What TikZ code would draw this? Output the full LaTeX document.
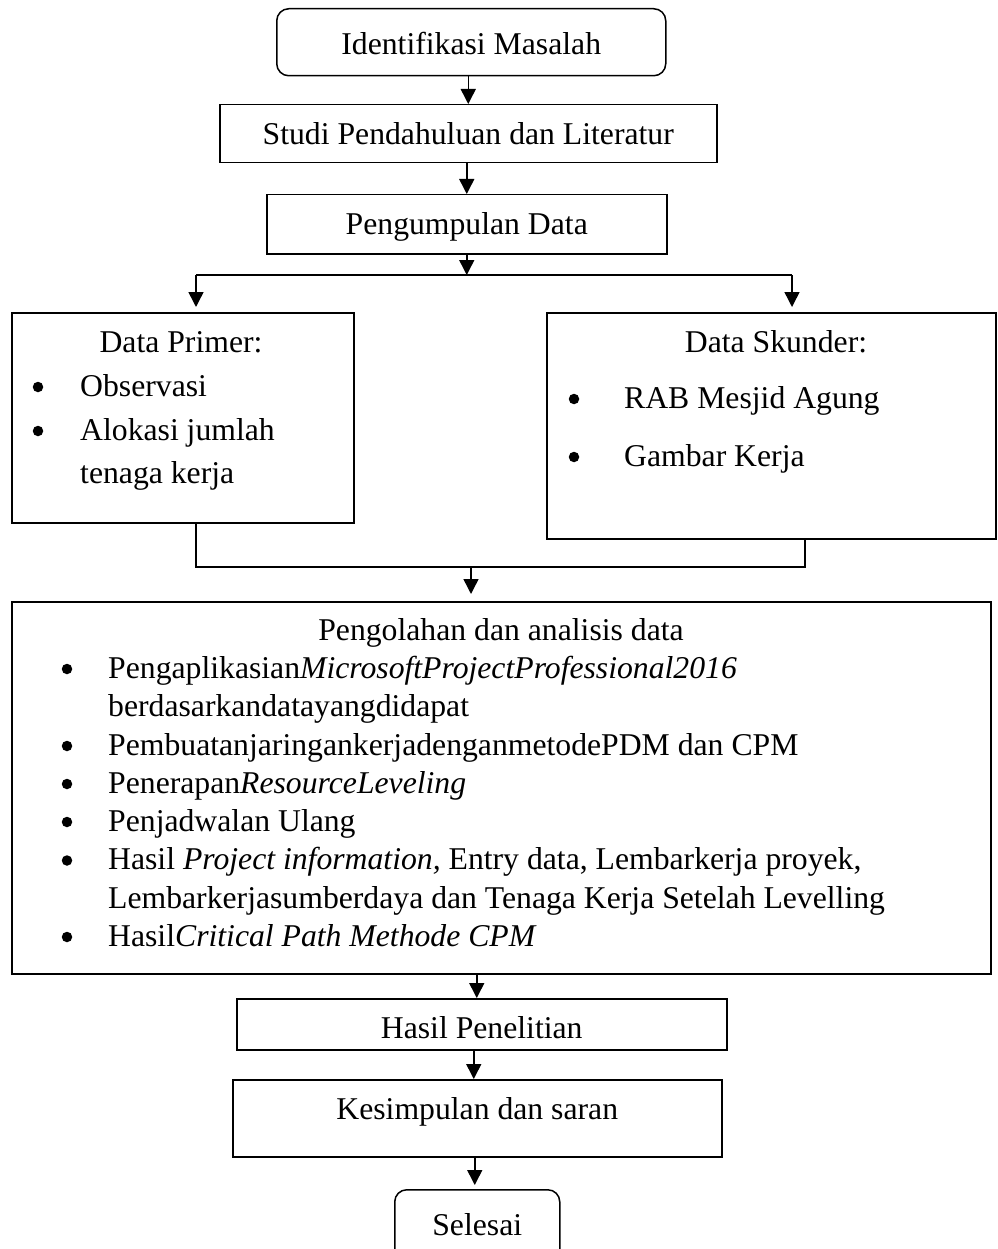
\documentclass[tikz,border=0pt]{standalone}
\usepackage{fontspec}
\setmainfont{Liberation Serif}
\usetikzlibrary{arrows.meta}
\begin{document}
\begin{tikzpicture}[x=1pt,y=-1pt,
  txt/.style={font=\fontsize{31.7}{38}\selectfont, inner sep=0pt},
  boxed/.style={txt, draw, line width=1.5pt, anchor=north west, align=center},
  rbox/.style={boxed, rounded corners=12pt},
  lbl/.style={txt, anchor=base west},
  ctr/.style={txt, anchor=base},
  bul/.style={circle, fill, inner sep=0pt, minimum size=10.5pt, yshift=9pt},
  conn/.style={line width=1.5pt},
  arr/.style={conn, -{Triangle[length=15pt,width=15pt]}}]
\path[use as bounding box, clip] (0,0) rectangle (997,1249);

% single-line boxes
\node[rbox, minimum width=389pt, text height=46pt, text depth=21pt] (idm) at (276,8) {Identifikasi Masalah};
\node[boxed, minimum width=497pt, text height=40pt, text depth=18pt] (studi) at (219,104) {Studi Pendahuluan dan Literatur};
\node[boxed, minimum width=400pt, text height=40pt, text depth=19pt] (pd) at (266,194) {Pengumpulan Data};

% Data Primer
\node[boxed, minimum width=342pt, minimum height=210pt] (dp) at (11,312) {};
\node[ctr] (dpt) at (181,352) {Data Primer:};
\node[bul] (dpb1) at (38,396) {};
\node[lbl] (dp1) at (80,396) {Observasi};
\node[bul] (dpb2) at (38,440) {};
\node[lbl] (dp2) at (80,440) {Alokasi jumlah};
\node[lbl] (dp3) at (80,483) {tenaga kerja};

% Data Skunder
\node[boxed, minimum width=449pt, minimum height=226pt] (ds) at (546,312) {};
\node[ctr] (dst) at (776,352) {Data Skunder:};
\node[bul] (dsb1) at (574,408) {};
\node[lbl] (ds1) at (624,408) {RAB Mesjid Agung};
\node[bul] (dsb2) at (574,466) {};
\node[lbl] (ds2) at (624,466) {Gambar Kerja};

% Pengolahan
\node[boxed, minimum width=979pt, minimum height=372pt] (big) at (11,601) {};
\node[ctr] (bigt) at (501,640) {Pengolahan dan analisis data};
\node[bul] (bb1) at (67,678) {};
\node[lbl] (b1) at (108,678) {Pengaplikasian\textit{MicrosoftProjectProfessional2016}};
\node[lbl] (b1b) at (108,716.5) {berdasarkandatayangdidapat};
\node[bul] (bb2) at (67,755) {};
\node[lbl] (b2) at (108,755) {PembuatanjaringankerjadenganmetodePDM dan CPM};
\node[bul] (bb3) at (67,793) {};
\node[lbl] (b3) at (108,793) {Penerapan\textit{ResourceLeveling}};
\node[bul] (bb4) at (67,831) {};
\node[lbl] (b4) at (108,831) {Penjadwalan Ulang};
\node[bul] (bb5) at (67,869.5) {};
\node[lbl] (b5) at (108,869.5) {Hasil \textit{Project information,} Entry data, Lembarkerja proyek,};
\node[lbl] (b5b) at (108,908) {Lembarkerjasumberdaya dan Tenaga Kerja Setelah Levelling};
\node[bul] (bb6) at (67,946) {};
\node[lbl] (b6) at (108,946) {Hasil\textit{Critical Path Methode CPM}};

% bottom boxes
\node[boxed, minimum width=490pt, text height=40pt, text depth=11pt] (hasil) at (236,998) {Hasil Penelitian};
\node[boxed, minimum width=489pt, text height=40pt, text depth=37pt] (kes) at (232,1079) {Kesimpulan dan saran};
\node[rbox, minimum width=165pt, text height=46pt, text depth=27pt] (sel) at (394,1189) {Selesai};

% connectors
\draw[arr] (idm.south -| studi.north) -- (studi.north);
\draw[arr] (studi.south -| pd.north) -- (pd.north);
\coordinate (jl) at (196,275);
\coordinate (jr) at (792,275);
\draw[conn] (jl) -- (jr);
\draw[arr] (pd.south) -- (pd.south |- jl);
\draw[arr, shorten >=5pt] (jl) -- (jl |- dp.north);
\draw[arr, shorten >=5pt] (jr) -- (jr |- ds.north);
\coordinate (ml) at (196,567);
\coordinate (mr) at (805,567);
\coordinate (mm) at (471,567);
\draw[conn] (dp.south -| ml) -- (ml) -- (mr) -- (mr |- ds.south);
\draw[arr, shorten >=7pt] (mm) -- (mm |- big.north);
\draw[arr] ([xshift=-5pt]hasil.north |- big.south) -- ([xshift=-5pt]hasil.north);
\draw[arr] ([xshift=-3.5pt]kes.north |- hasil.south) -- ([xshift=-3.5pt]kes.north);
\draw[arr, shorten >=4pt] ([xshift=-2.5pt]sel.north |- kes.south) -- ([xshift=-2.5pt]sel.north);
\end{tikzpicture}
\end{document}
